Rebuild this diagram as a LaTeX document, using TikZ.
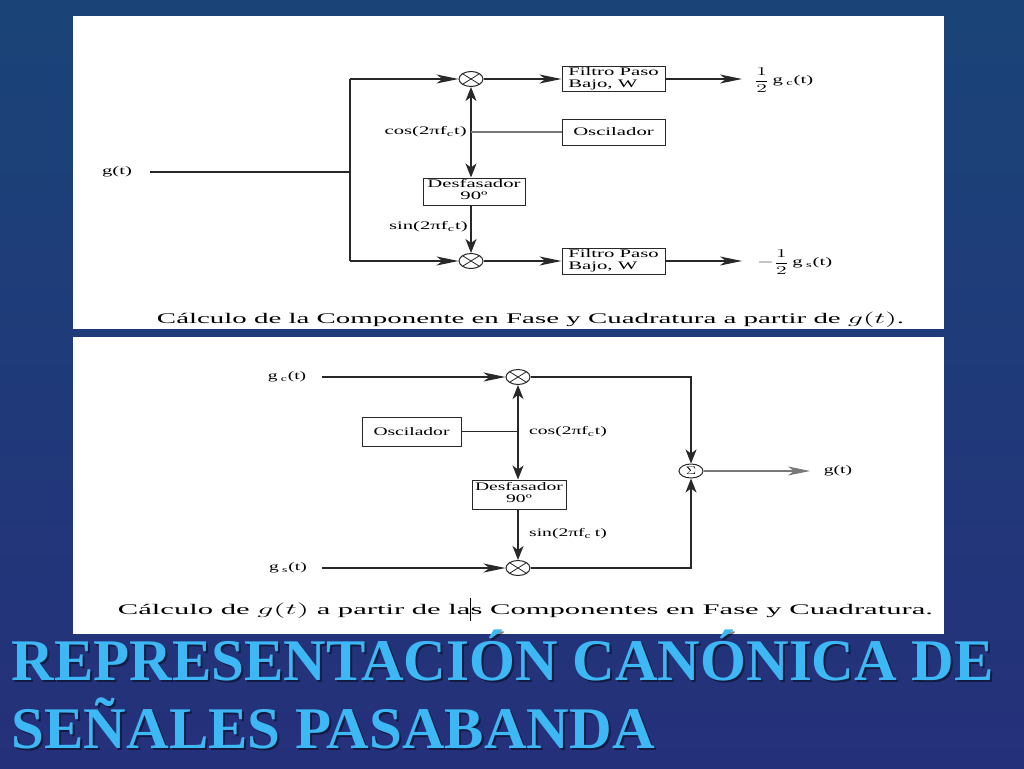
\documentclass[tikz,border=0pt]{standalone}
\usepackage{fontspec}
\usepackage{graphicx}
\usetikzlibrary{calc,arrows.meta,shapes.geometric}
\newfontfamily\dfont{Liberation Serif}
\newfontfamily\tfont{Liberation Serif}
\newcommand\sxa[1]{\scalebox{1.8}[1]{#1}}
\newcommand\sxb[1]{\scalebox{1.7}[1]{#1}}
\newcommand\halfsym{{\fontsize{12.5}{13}\selectfont$\displaystyle\frac{1}{2}$}}
\definecolor{bgtop}{RGB}{26,68,120}
\definecolor{bgbot}{RGB}{37,48,122}
\definecolor{ttl}{RGB}{62,183,245}
\definecolor{lnc}{RGB}{40,40,40}
\definecolor{lgray}{RGB}{120,120,120}
\tikzset{
  ln/.style={draw=lnc, line width=1.2pt},
  harr/.style={-{Stealth[length=22pt,width=9pt,inset=6pt]}},
  varr/.style={-{Stealth[length=14pt,width=11pt,inset=4pt]}},
  dvarr/.style={{Stealth[length=14pt,width=11pt,inset=4pt]}-{Stealth[length=14pt,width=11pt,inset=4pt]}},
  blk/.style={draw=lnc, line width=1pt, rectangle, inner sep=0pt, font=\dfont\fontsize{11.5}{12}\selectfont},
  mult/.style={draw=lnc, line width=1pt, ellipse, minimum width=24pt, minimum height=15pt, inner sep=0pt},
  lbl/.style={inner sep=0pt, font=\dfont\fontsize{11.5}{12}\selectfont},
  ttext/.style={anchor=base west, inner sep=0pt, font=\tfont\bfseries\fontsize{59}{60}\selectfont},
}
\begin{document}
\begin{tikzpicture}[x=1pt,y=-1pt]
\useasboundingbox (0,0) rectangle (1024,768);
\shade[top color=bgtop, bottom color=bgbot] (0,0) rectangle (1024,768);
\fill[white] (73,16) rectangle (944,329);
\fill[white] (73,337) rectangle (944,634);

% ---------- top diagram ----------
\node[lbl] (g1) at (117,172) {\sxa{g(t)}};
\coordinate (gin) at (150,172);
\coordinate (br) at (350,172);
\coordinate (bt) at (350,79);
\coordinate (bb) at (350,261);
\node[mult] (m1) at (471,79) {};
\node[mult] (m2) at (471,261) {};
\node[blk, minimum width=103pt, minimum height=25pt] (f1) at (613.5,79)
  {\sxa{\begin{tabular}{@{}l@{}}Filtro Paso\\Bajo, W\end{tabular}}};
\node[blk, minimum width=103pt, minimum height=26pt] (f2) at (613.5,261)
  {\sxa{\begin{tabular}{@{}l@{}}Filtro Paso\\Bajo, W\end{tabular}}};
\node[blk, minimum width=103pt, minimum height=26pt] (osc1) at (613.5,132) {\sxa{Oscilador}};
\node[blk, minimum width=102pt, minimum height=27pt] (d1) at (474,191.5)
  {\sxa{\begin{tabular}{@{}c@{}}Desfasador\\90º\end{tabular}}};
\node[lbl, anchor=east] (cos1) at (467,132) {\sxa{cos(2πf\textsubscript{c}t)}};
\node[lbl, anchor=east] (sin1) at (468,227) {\sxa{sin(2πf\textsubscript{c}t)}};
\coordinate (o1) at (742,79);
\coordinate (o2) at (742,261);
\node[lbl, anchor=west] (o1l) at (754,80) {\sxa{\halfsym\,g\,\textsubscript{c}(t)}};
\node[lbl, anchor=west] (o2l) at (757,262) {\sxa{{\fontsize{12.5}{13}\selectfont$-$}\halfsym\,g\,\textsubscript{s}(t)}};

\draw[ln] (gin) -- (br);
\draw[ln] (bt) -- (bb);
\draw[ln,harr] (bt) -- (m1);
\draw[ln,harr] (bb) -- (m2);
\draw[ln,harr] (m1) -- (f1);
\draw[ln,harr] (m2) -- (f2);
\draw[ln,harr] (f1) -- (o1);
\draw[ln,harr] (f2) -- (o2);
\draw[ln,dvarr] (m1.south) -- (m1.south |- d1.north);
\draw[ln,draw=lgray] (osc1.west) -- (osc1.west -| m1);
\draw[ln,varr] (m1 |- d1.south) -- (m2.north);

\node[lbl, anchor=base] (cap1) at (530.5,323)
  {\resizebox{747pt}{11.5pt}{Cálculo de la Componente en Fase y Cuadratura a partir de $g(t)$.}};

% ---------- bottom diagram ----------
\node[lbl] (gcl) at (287,377) {\sxb{g\,\textsubscript{c}(t)}};
\node[lbl] (gsl) at (288,568) {\sxb{g\,\textsubscript{s}(t)}};
\coordinate (gcin) at (322,377);
\coordinate (gsin) at (322,568);
\node[mult] (m3) at (518,377) {};
\node[mult] (m4) at (518,568) {};
\node[mult, minimum height=14pt] (sum) at (691,471) {\fontsize{11}{11}\selectfont\scalebox{1.3}[1]{$\Sigma$}};
\coordinate (c3) at (691,377);
\coordinate (c4) at (691,568);
\node[blk, minimum width=99pt, minimum height=29pt] (osc2) at (411.5,431.5) {\sxb{Oscilador}};
\node[blk, minimum width=94pt, minimum height=29pt] (d2) at (519,494.5)
  {\sxb{\begin{tabular}{@{}c@{}}Desfasador\\90º\end{tabular}}};
\node[lbl, anchor=west] (cos2) at (529,432) {\sxb{cos(2πf\textsubscript{c}t)}};
\node[lbl, anchor=west] (sin2) at (529,534) {\sxb{sin(2πf\textsubscript{c}\,t)}};
\coordinate (gout) at (810,471);
\node[lbl] (goutl) at (838,471) {\sxb{g(t)}};

\draw[ln,harr] (gcin) -- (m3);
\draw[ln,harr] (gsin) -- (m4);
\draw[ln,varr] (m3) -- (c3) -- (sum);
\draw[ln,varr] (m4) -- (c4) -- (sum);
\draw[ln] (osc2.east) -- (osc2.east -| m3);
\draw[ln,dvarr] (m3.south) -- (m3.south |- d2.north);
\draw[ln,varr] (m3 |- d2.south) -- (m4.north);
\draw[ln,draw=lgray,harr] (sum) -- (gout);

\foreach \m in {m1,m2,m3,m4}
  \draw[draw=lnc, line width=0.8pt] ($(\m)+(-8.5,-5.3)$) -- ($(\m)+(8.5,5.3)$)
                                    ($(\m)+(-8.5,5.3)$) -- ($(\m)+(8.5,-5.3)$);

\node[lbl, anchor=base] (cap2) at (525.5,614)
  {\resizebox{815pt}{11.5pt}{Cálculo de $g(t)$ a partir de las Componentes en Fase y Cuadratura.}};
\draw[line width=0.8pt] (470,598) -- (470,621);

% ---------- title ----------
\node[ttext, text=black, opacity=0.45] (t1s) at (13.5,682) {REPRESENTACIÓN CANÓNICA DE};
\node[ttext, text=ttl] (t1) at (11.5,680) {REPRESENTACIÓN CANÓNICA DE};
\node[ttext, text=black, opacity=0.45] (t2s) at (13.5,750) {SEÑALES PASABANDA};
\node[ttext, text=ttl] (t2) at (11.5,748) {SEÑALES PASABANDA};
\end{tikzpicture}
\end{document}
